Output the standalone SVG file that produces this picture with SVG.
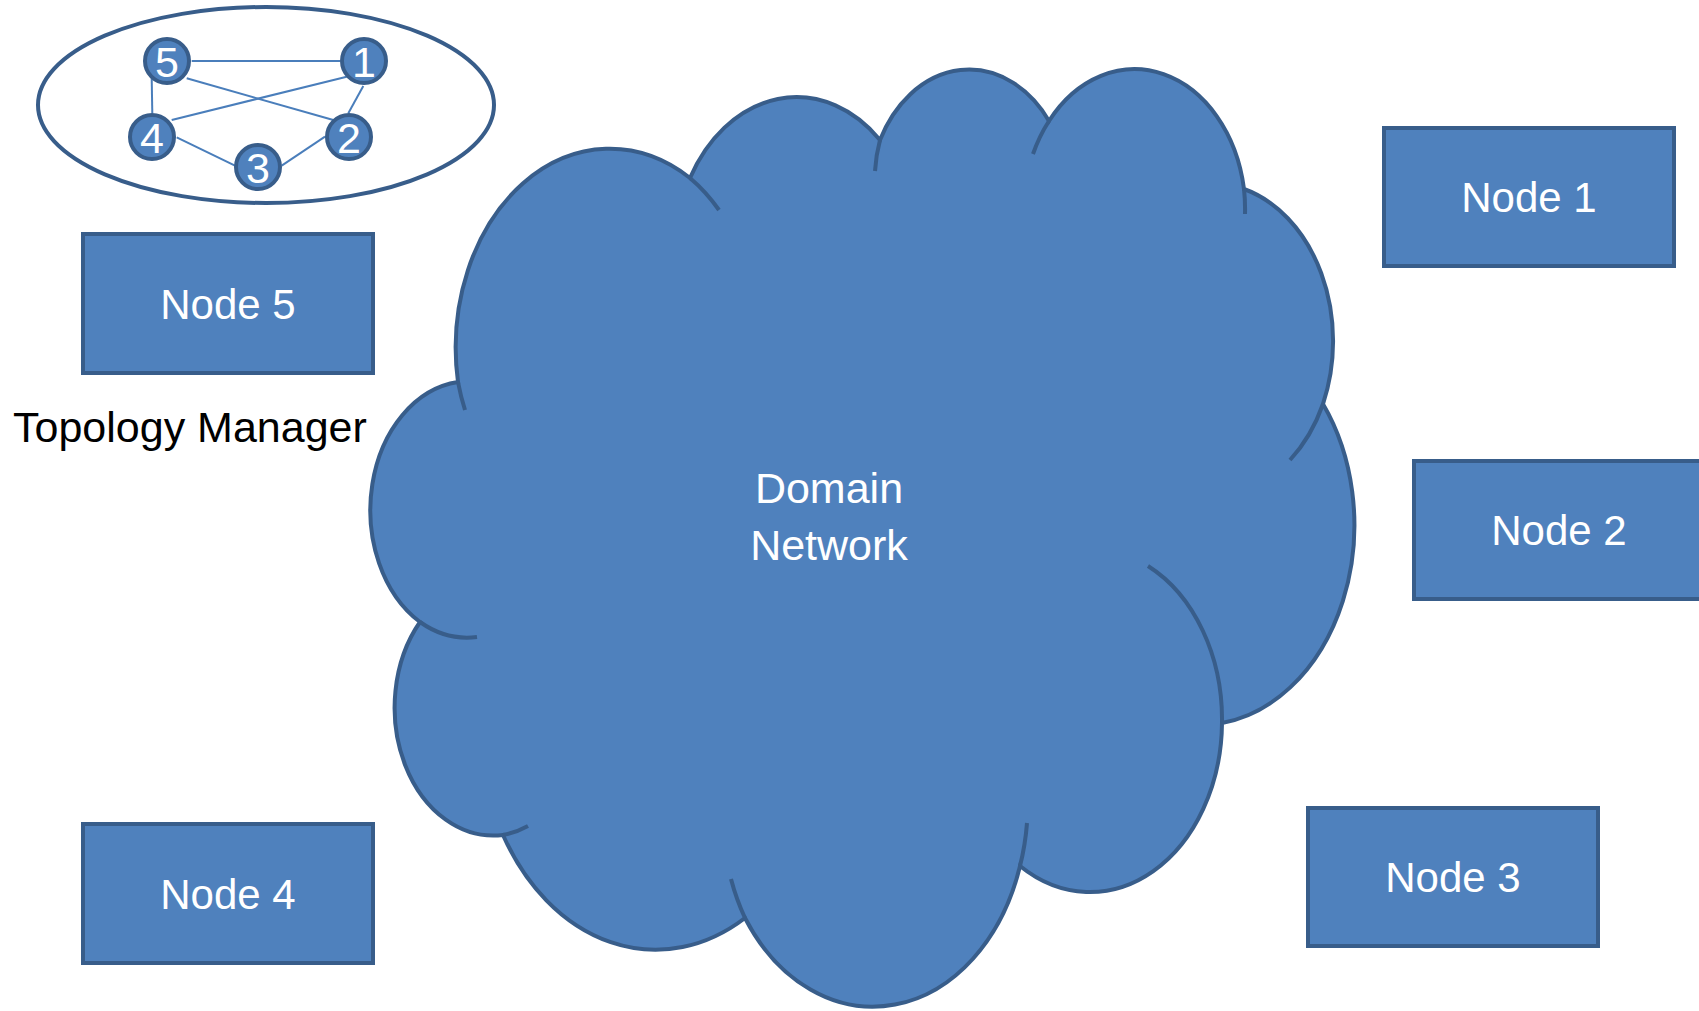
<svg xmlns="http://www.w3.org/2000/svg" width="1699" height="1011" viewBox="0 0 1699 1011">
<style>
.shape{fill:#4f81bd;stroke:#385d8a;stroke-width:4}
.crease{fill:none;stroke:#385d8a;stroke-width:4}
.link{stroke:#4a7ebb;stroke-width:2;fill:none}
.wt{fill:#ffffff;font-family:"Liberation Sans",Arial,sans-serif;text-anchor:middle}
.bt{fill:#000000;font-family:"Liberation Sans",Arial,sans-serif}
</style>
<rect width="1699" height="1011" fill="#ffffff"/>
<g id="domain-network">
<path class="shape" d="M 458 382 A 154 199 0 0 1 690 178 A 122 158 0 0 1 880 140 A 100 129 0 0 1 1049 121 A 111 143 0 0 1 1244 189 A 122 158 0 0 1 1323 404 A 154 200 0 0 1 1222 723 A 132 171 0 0 1 1020 866 A 154 200 0 0 1 745 918 A 176 229 0 0 1 503 835 A 99 128 0 0 1 420 622 A 99 129 0 0 1 458 382 Z"/>
<path class="crease" d="M 465 410 A 154 199 0 0 1 458 382 M 690 178 A 154 199 0 0 1 719 210 M 875 171 A 100 129 0 0 1 880 140 M 1033 154 A 111 143 0 0 1 1049 121 M 1244 189 A 111 143 0 0 1 1245 214 M 1323 404 A 122 158 0 0 1 1290 460 M 1148 566 A 132 171 0 0 1 1222 723 M 1027 823 A 154 200 0 0 1 1020 866 M 745 918 A 154 200 0 0 1 731 879 M 528 826 A 99 128 0 0 1 503 835 M 477 637 A 99 129 0 0 1 420 622"/>
<text class="wt" x="829" y="503" font-size="43">Domain</text>
<text class="wt" x="829" y="560" font-size="43">Network</text>
</g>
<g id="topology-manager">
<ellipse cx="266" cy="105" rx="228" ry="98" fill="#ffffff" stroke="#385d8a" stroke-width="4"/>
<g id="topology-links">
<line class="link" x1="191.7" y1="61" x2="340" y2="61"/>
<line class="link" x1="186.7" y1="78.3" x2="333.3" y2="120"/>
<line class="link" x1="346.7" y1="76.7" x2="171.7" y2="120"/>
<line class="link" x1="151.7" y1="78.3" x2="152.3" y2="113.3"/>
<line class="link" x1="363.3" y1="86" x2="348.3" y2="113.3"/>
<line class="link" x1="176.7" y1="137.3" x2="235" y2="165.7"/>
<line class="link" x1="281.7" y1="165.7" x2="325" y2="136.7"/>
</g>
<g id="tm-5"><circle class="shape" cx="167" cy="61" r="22"/><text class="wt" x="167" y="77" font-size="43">5</text></g>
<g id="tm-1"><circle class="shape" cx="364" cy="61" r="22"/><text class="wt" x="364" y="77" font-size="43">1</text></g>
<g id="tm-4"><circle class="shape" cx="152" cy="137" r="22"/><text class="wt" x="152" y="153" font-size="43">4</text></g>
<g id="tm-2"><circle class="shape" cx="349" cy="137" r="22"/><text class="wt" x="349" y="153" font-size="43">2</text></g>
<g id="tm-3"><circle class="shape" cx="258" cy="167" r="22"/><text class="wt" x="258" y="183" font-size="43">3</text></g>
<text class="bt" x="13" y="441.5" font-size="43">Topology Manager</text>
</g>
<g id="node-5"><rect class="shape" x="83" y="234" width="290" height="139"/><text class="wt" x="228" y="319" font-size="42">Node 5</text></g>
<g id="node-1"><rect class="shape" x="1384" y="128" width="290" height="138"/><text class="wt" x="1529" y="212" font-size="42">Node 1</text></g>
<g id="node-2"><rect class="shape" x="1414" y="461" width="290" height="138"/><text class="wt" x="1559" y="545" font-size="42">Node 2</text></g>
<g id="node-3"><rect class="shape" x="1308" y="808" width="290" height="138"/><text class="wt" x="1453" y="892" font-size="42">Node 3</text></g>
<g id="node-4"><rect class="shape" x="83" y="824" width="290" height="139"/><text class="wt" x="228" y="909" font-size="42">Node 4</text></g>
</svg>
